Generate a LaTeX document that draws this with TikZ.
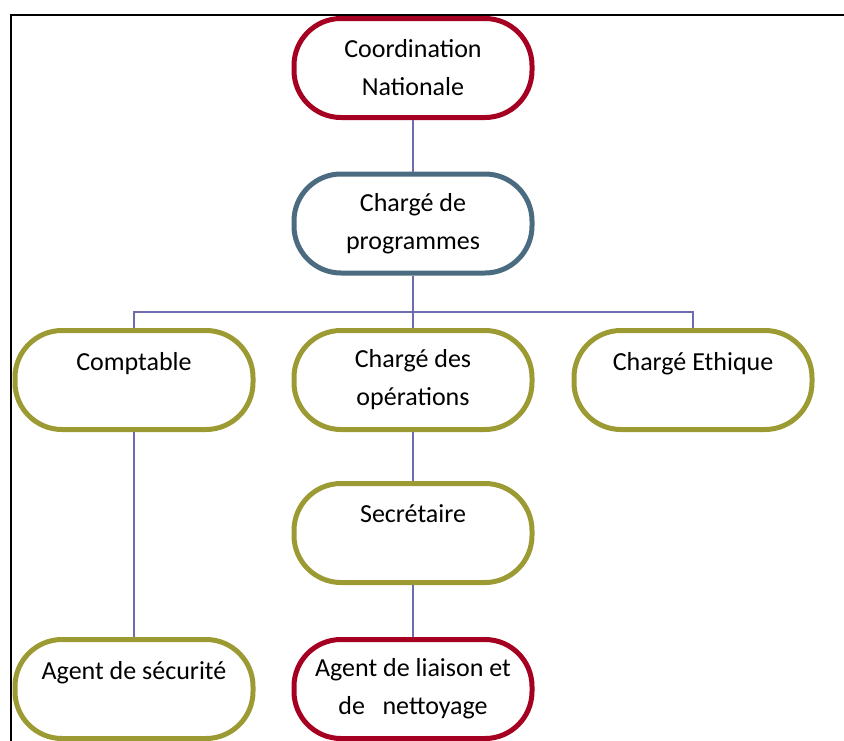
\documentclass[tikz,border=0pt]{standalone}
\usepackage{fontspec}
\setmainfont{Carlito}
\usetikzlibrary{calc}
\definecolor{mRed}{HTML}{A50021}
\definecolor{mSlate}{HTML}{4A6B80}
\definecolor{mOlive}{HTML}{9C9A33}
\definecolor{mLink}{HTML}{6E6CAE}
\def\boxw{238pt}
\def\boxh{99pt}

\begin{document}
\begin{tikzpicture}[x=1pt, y=-1pt]
  \tikzstyle{unit}=[rectangle, rounded corners=47pt, line width=5pt, fill=white,
    minimum width=\boxw, minimum height=\boxh, inner sep=0pt, align=center,
    font=\fontsize{26}{38}\selectfont]
  \tikzstyle{red unit}=[unit, draw=mRed]
  \tikzstyle{slate unit}=[unit, draw=mSlate]
  \tikzstyle{olive unit}=[unit, draw=mOlive]
  \tikzstyle{link}=[draw=mLink, line width=2pt]

  \useasboundingbox (0,0) rectangle (844,740);
  \clip (0,0) rectangle (844,740);

  % page frame
  \draw[line width=2pt] (10.5,760) -- (10.5,14.5) -- (860,14.5);

  % Draw the top of the chart
  \node[red unit] (coord) at (413,68) {Coordination\\Nationale};
  \node[slate unit] (prog) at (413,223.5) {Chargé de\\programmes};

  % Draw the middle row
  \foreach \name/\x/\txt in {compt/134/{Comptable\\~},
                              ops/413/{Chargé des\\opérations},
                              ethic/693/{Chargé Ethique\\~}}
    \node[olive unit] (\name) at (\x,380) {\txt};

  % Draw the lower rows
  \node[olive unit] (secr) at (413,533) {Secrétaire\\~};
  \node[olive unit] (secu) at (134,689) {Agent de sécurité\\~};
  \node[red unit] (liais) at (413,689) {Agent de liaison et\\de\ \ \ nettoyage};

  % Connect coordination -> programmes
  \path[link] (coord) edge (prog);
  % Connect programmes -> middle row
  \coordinate (split) at ($(prog.south) + (0,36)$);
  \foreach \dest in {compt,ops,ethic}
    \draw[link] (prog.south) -- (split) -| (\dest.north);
  % Connect the columns downwards
  \path[link] (compt) edge (secu);
  \path[link] (ops) edge (secr);
  \path[link] (secr) edge (liais);
\end{tikzpicture}
\end{document}
